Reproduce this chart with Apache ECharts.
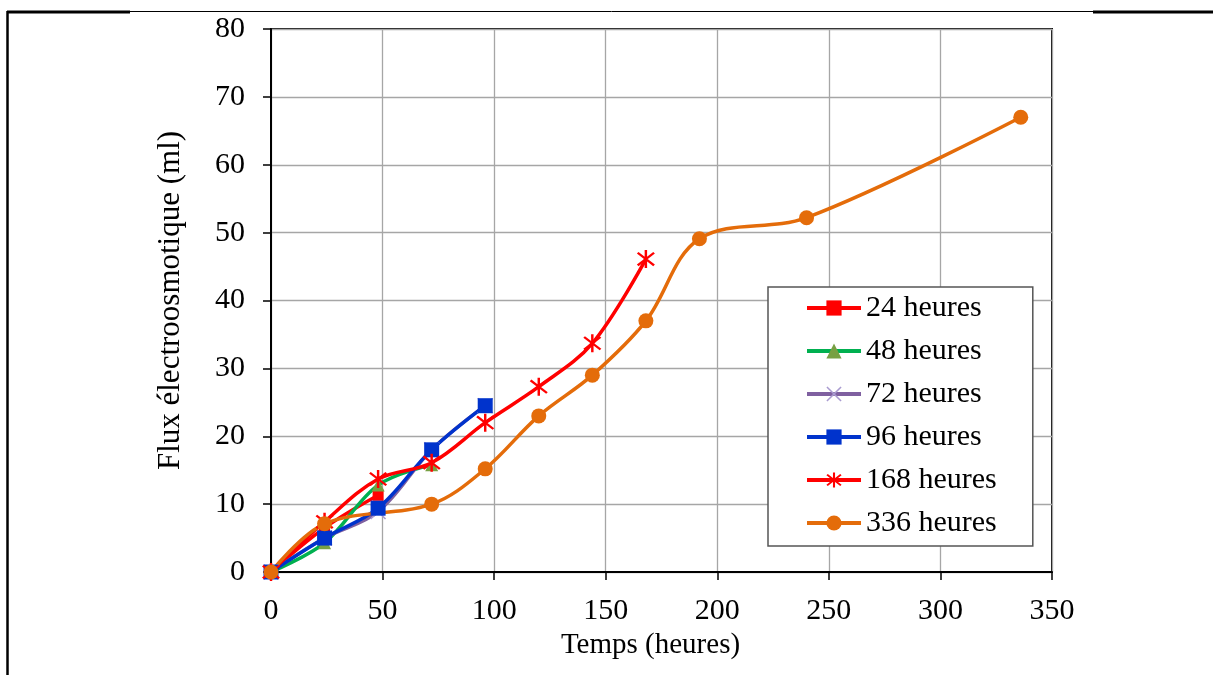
<!DOCTYPE html>
<html>
<head>
<meta charset="utf-8">
<script src="https://cdn.jsdelivr.net/npm/echarts@6/dist/echarts.min.js"></script>
<style>
html,body{margin:0;padding:0;background:#fff;}
#chart{width:1213px;height:675px;}
</style>
</head>
<body>
<div id="chart"></div>
<script>
// ---- data ----
const seriesNames = ['24 heures', '48 heures', '72 heures', '96 heures', '168 heures', '336 heures'];
const t24 = [0, 24, 48];
const v24 = [0, 6.5, 11.3];
const t48 = [0, 24, 48, 72];
const v48 = [0, 4.3, 12.8, 15.8];
const t72 = [0, 24, 48, 72, 96];
const v72 = [0, 5.0, 8.9, 18.0, 24.5];
const t96 = [0, 24, 48, 72, 96];
const v96 = [0, 5.0, 9.4, 18.0, 24.5];
const t168 = [0, 24, 48, 72, 96, 120, 144, 168];
const v168 = [0, 7.4, 13.7, 16.1, 22.0, 27.3, 33.7, 46.1];
const t336 = [0, 24, 72, 96, 120, 144, 168, 192, 240, 336];
const v336 = [0, 7.1, 10.0, 15.2, 23.0, 29.0, 37.0, 49.1, 52.2, 67.0];
const xTicks = [0, 50, 100, 150, 200, 250, 300, 350];
const yTicks = [0, 10, 20, 30, 40, 50, 60, 70, 80];

function pairs(t, v) { return t.map((x, i) => [x, v[i]]); }

const FONT = 'Liberation Serif';
const asterisk = 'path://M8.8 0 L11.2 0 L11.2 20 L8.8 20 Z M2.79 2.10 L18.79 16.10 L17.21 17.90 L1.21 3.90 Z M1.21 16.10 L17.21 2.10 L18.79 3.90 L2.79 17.90 Z';
const xmark = 'path://M2.8 1.6 L18.4 17.2 L17.2 18.4 L1.6 2.8 Z M1.6 17.2 L17.2 1.6 L18.4 2.8 L2.8 18.4 Z';

const chart = echarts.init(document.getElementById('chart'), null, {renderer: 'canvas'});

function mk(name, t, v, color, symbol, size, symColor, lw) {
  return {
    name: name,
    type: 'line',
    data: pairs(t, v),
    smooth: 0.35,
    symbol: symbol,
    symbolSize: size,
    showAllSymbol: true,
    lineStyle: {color: color, width: lw || 3.5},
    itemStyle: {color: symColor || color, borderWidth: 0},
    emphasis: {disabled: true},
    animation: false
  };
}

const option = {
  animation: false,
  backgroundColor: '#fff',
  grid: {left: 271, right: 161, top: 29, bottom: 103, show: true, borderColor: '#111', borderWidth: 2, backgroundColor: 'transparent'},
  xAxis: {
    type: 'value', min: 0, max: 350, interval: 50,
    name: 'Temps (heures)', nameLocation: 'middle', nameGap: 50,
    nameTextStyle: {fontFamily: FONT, fontSize: 29, color: '#000', padding: [0, 22, 0, 0]},
    axisLine: {show: true, lineStyle: {color: '#000', width: 2}},
    axisTick: {show: true, inside: false, length: 8, lineStyle: {color: '#000', width: 1.5}},
    axisLabel: {fontFamily: FONT, fontSize: 30, color: '#000', margin: 24,
      formatter: function (v) { return xTicks.indexOf(v) >= 0 ? String(v) : ''; }},
    splitLine: {show: true, lineStyle: {color: '#a6a6a6', width: 1.3}}
  },
  yAxis: {
    type: 'value', min: 0, max: 80, interval: 10,
    name: 'Flux électroosmotique (ml)', nameLocation: 'middle', nameGap: 85, nameRotate: 90,
    nameTextStyle: {fontFamily: FONT, fontSize: 31, color: '#000'},
    axisLine: {show: true, lineStyle: {color: '#000', width: 2}},
    axisTick: {show: true, inside: false, length: 8, lineStyle: {color: '#000', width: 1.5}},
    axisLabel: {fontFamily: FONT, fontSize: 30, color: '#000', margin: 26,
      formatter: function (v) { return yTicks.indexOf(v) >= 0 ? String(v) : ''; }},
    splitLine: {show: true, lineStyle: {color: '#a6a6a6', width: 1.3}}
  },
  legend: {
    show: true, orient: 'vertical', left: 768, top: 287,
    padding: [6, 36, 8, 37],
    itemGap: 13, itemWidth: 54, itemHeight: 19,
    backgroundColor: '#fff', borderColor: '#555', borderWidth: 1.5,
    lineStyle: {width: 4},
    textStyle: {fontFamily: FONT, fontSize: 30, color: '#000', lineHeight: 30},
    data: seriesNames
  },
  graphic: [
    {type: 'line', shape: {x1: 7, y1: 12, x2: 130, y2: 12}, style: {stroke: '#000', lineWidth: 3}, silent: true},
    {type: 'line', shape: {x1: 130, y1: 11.5, x2: 1093, y2: 11.5}, style: {stroke: '#000', lineWidth: 1}, silent: true},
    {type: 'line', shape: {x1: 1093, y1: 12, x2: 1213, y2: 12}, style: {stroke: '#000', lineWidth: 3}, silent: true},
    {type: 'line', shape: {x1: 7.5, y1: 11, x2: 7.5, y2: 675}, style: {stroke: '#000', lineWidth: 2.5}, silent: true}
  ],
  series: [
    mk(seriesNames[0], t24, v24, '#ff0000', 'rect', 11),
    mk(seriesNames[1], t48, v48, '#00b050', 'triangle', 13, '#77a043'),
    mk(seriesNames[2], t72, v72, '#7f60a0', xmark, 16, '#a99bd0'),
    mk(seriesNames[3], t96, v96, '#0033cc', 'rect', 15),
    mk(seriesNames[4], t168, v168, '#ff0000', asterisk, 18),
    mk(seriesNames[5], t336, v336, '#e46c0a', 'circle', 15)
  ]
};
chart.setOption(option);
</script>
</body>
</html>
